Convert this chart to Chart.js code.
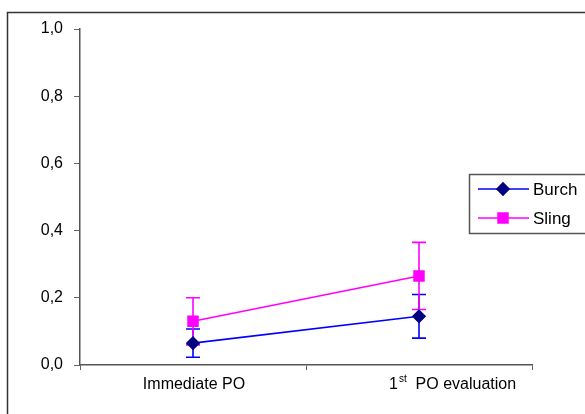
<!DOCTYPE html>
<html>
<head>
<meta charset="utf-8">
<script src="https://cdn.jsdelivr.net/npm/chart.js@4.4.0/dist/chart.umd.min.js"></script>
<style>
  html, body { margin: 0; padding: 0; background: #fff; }
  #wrap { width: 585px; height: 414px; }
</style>
</head>
<body>
<div id="wrap"><canvas id="graph"></canvas></div>
<script>
// данные
const categories = ['Immediate PO', '1st PO evaluation'];
const burchMean = [0.065, 0.145];
const burchErr = [0.042, 0.065];
const slingMean = [0.13, 0.265];
const slingErr = [0.07, 0.10];
const yTicks = [0, 0.2, 0.4, 0.6, 0.8, 1.0];

const FONT = '"Liberation Sans", Arial, sans-serif';

// рамка вокруг всего графика
const framePlugin = {
    id: 'frame',
    beforeDraw(chart) {
        const c = chart.ctx;
        c.save();
        c.strokeStyle = '#333';
        c.lineWidth = 1.5;
        c.strokeRect(7.5, 12.5, 600, 420);
        c.restore();
    }
};

// планки погрешностей
const errorBarsPlugin = {
    id: 'errorBars',
    beforeDatasetsDraw(chart) {
        const c = chart.ctx;
        const y = chart.scales.y;
        const errs = [burchErr, slingErr];
        const colors = ['#0000FF', '#FF00FF'];
        c.save();
        c.lineWidth = 1.6;
        chart.data.datasets.forEach((ds, i) => {
            const meta = chart.getDatasetMeta(i);
            meta.data.forEach((pt, j) => {
                const top = y.getPixelForValue(ds.data[j] + errs[i][j]);
                const bot = y.getPixelForValue(ds.data[j] - errs[i][j]);
                c.strokeStyle = colors[i];
                c.beginPath();
                c.moveTo(pt.x, top); c.lineTo(pt.x, bot);
                c.moveTo(pt.x - 7, top); c.lineTo(pt.x + 7, top);
                c.moveTo(pt.x - 7, bot); c.lineTo(pt.x + 7, bot);
                c.stroke();
            });
        });
        c.restore();
    }
};

// подписи оси X (с верхним индексом)
const xLabelsPlugin = {
    id: 'xLabels',
    afterDraw(chart) {
        const c = chart.ctx;
        const x = chart.scales.x;
        const yPos = 385;
        c.save();
        c.fillStyle = '#000';
        c.textBaseline = 'middle';
        categories.forEach((lab, i) => {
            const cx = x.getPixelForValue(i);
            const m = lab.match(/^(\d+)(st|nd|rd|th) (.*)$/);
            if (m) {
                // в оригинале подпись сдвинута вправо от точки
                let sx = cx - 30;
                c.textAlign = 'left';
                c.font = '16px ' + FONT;
                c.fillText(m[1], sx, yPos);
                sx += c.measureText(m[1]).width + 1;
                c.font = '10px ' + FONT;
                c.fillText(m[2], sx, yPos - 6);
                sx += c.measureText(m[2]).width;
                c.font = '16px ' + FONT;
                c.fillText('  ' + m[3], sx, yPos);
            } else {
                c.font = '16px ' + FONT;
                c.textAlign = 'center';
                c.fillText(lab, cx + 1, yPos);
            }
        });
        c.restore();
    }
};

// легенда
const legendPlugin = {
    id: 'boxLegend',
    afterDraw(chart) {
        const c = chart.ctx;
        c.save();
        c.fillStyle = '#fff';
        c.fillRect(469.5, 174.5, 130, 59);
        c.strokeStyle = '#555';
        c.lineWidth = 1.5;
        c.strokeRect(469.5, 174.5, 130, 59);
        const rows = [189, 218];
        chart.data.datasets.forEach((ds, i) => {
            const yy = rows[i];
            c.strokeStyle = ds.borderColor;
            c.lineWidth = 1.6;
            c.beginPath();
            c.moveTo(478, yy); c.lineTo(529, yy);
            c.stroke();
            c.fillStyle = ds.pointBackgroundColor;
            c.strokeStyle = ds.pointBorderColor;
            Chart.helpers.drawPoint(c, {
                pointStyle: ds.pointStyle, radius: ds.pointRadius, borderWidth: 1
            }, 503, yy);
            c.fillStyle = '#000';
            c.font = '17px ' + FONT;
            c.textAlign = 'left';
            c.textBaseline = 'middle';
            c.fillText(ds.label, 533, yy + 1);
        });
        c.restore();
    }
};

const chart = new Chart(document.getElementById('graph'), {
    type: 'line',
    data: {
        labels: categories,
        datasets: [{
            label: 'Burch',
            data: burchMean,
            borderColor: '#0000FF',
            borderWidth: 1.6,
            pointStyle: 'rectRot',
            pointRadius: 6,
            pointBackgroundColor: '#000080',
            pointBorderColor: '#000080',
            tension: 0
        }, {
            label: 'Sling',
            data: slingMean,
            borderColor: '#FF00FF',
            borderWidth: 1.6,
            pointStyle: 'rect',
            pointRadius: 7,
            pointBackgroundColor: '#FF00FF',
            pointBorderColor: '#FF00FF',
            tension: 0
        }]
    },
    options: {
        responsive: true,
        maintainAspectRatio: false,
        animation: false,
        layout: { padding: { top: 29, right: 53, left: 0, bottom: 0 } },
        plugins: {
            legend: { display: false },
            tooltip: { enabled: false }
        },
        scales: {
            x: {
                offset: true,
                grid: { offset: true, drawOnChartArea: false, drawTicks: true, tickLength: 5, color: '#666' },
                border: { color: '#555', width: 1.5 },
                ticks: { display: false },
                afterFit: s => { s.height = 49; }
            },
            y: {
                min: 0,
                max: 1,
                afterBuildTicks: s => { s.ticks = yTicks.map(v => ({ value: v })); },
                grid: { drawOnChartArea: false, drawTicks: true, tickLength: 6, color: '#666' },
                border: { color: '#555', width: 1.5 },
                ticks: {
                    color: '#000',
                    padding: 11,
                    font: { family: FONT, size: 16 },
                    callback: v => v.toFixed(1).replace('.', ',')
                },
                afterFit: s => { s.width = 80; }
            }
        }
    },
    plugins: [framePlugin, errorBarsPlugin, xLabelsPlugin, legendPlugin]
});
</script>
</body>
</html>
